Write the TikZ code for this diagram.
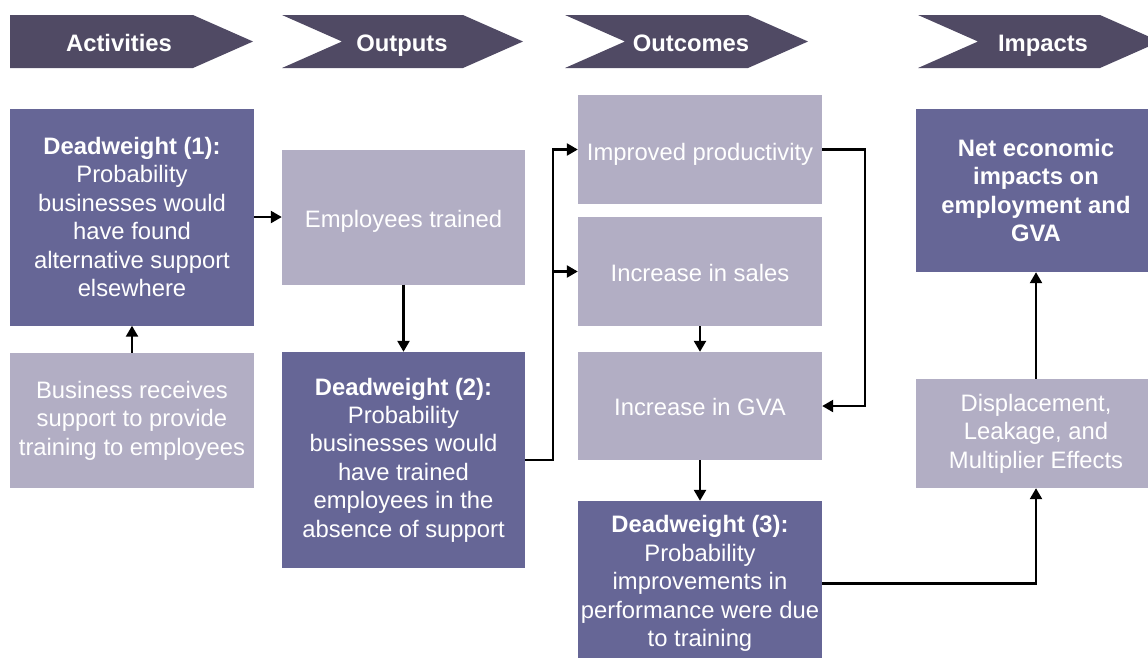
\documentclass[tikz,border=0pt]{standalone}
\usepackage{fontspec}
\setmainfont{Liberation Sans}
\usetikzlibrary{arrows.meta,calc}
\definecolor{chev}{HTML}{504A64}
\definecolor{darkbox}{HTML}{666696}
\definecolor{lightbox}{HTML}{B2AEC4}
\tikzset{
  boxbase/.style={rectangle, inner sep=0pt, text=white, align=center,
    font=\fontsize{23.8}{28.4}\selectfont},
  darkb/.style={boxbase, fill=darkbox},
  lightb/.style={boxbase, fill=lightbox},
  chevpath/.style={fill=chev, draw=none},
  chevlabel/.style={text=white, anchor=base, font=\bfseries\fontsize{23.8}{28}\selectfont},
  arr/.style={line width=2.4pt, -{Triangle[length=11pt,width=12pt]}}
}
\begin{document}
\begin{tikzpicture}[x=1pt,y=-1pt]
\useasboundingbox (0,0) rectangle (1148,657);
\clip (0,0) rectangle (1148,657);
% header chevrons
\fill[chevpath] (10,15) -- (193,15) -- (253,41.5) -- (193,68) -- (10,68) -- cycle;
\fill[chevpath] (282,15) -- (463,15) -- (523,41.5) -- (463,68) -- (282,68) -- (342,41.5) -- cycle;
\fill[chevpath] (565,15) -- (748,15) -- (808,41.5) -- (748,68) -- (565,68) -- (625,41.5) -- cycle;
\fill[chevpath] (918,15) -- (1100,15) -- (1160,41.5) -- (1100,68) -- (918,68) -- (978,41.5) -- cycle;
\node[chevlabel] (hact) at (119,51) {Activities};
\node[chevlabel] (hout) at (402,51) {Outputs};
\node[chevlabel] (houc) at (691,51) {Outcomes};
\node[chevlabel] (himp) at (1043,51) {Impacts};
% boxes
\node[darkb, minimum width=244pt, minimum height=217pt] (d1) at (132,217) {\textbf{Deadweight (1):}\\Probability\\businesses would\\have found\\alternative support\\elsewhere};
\node[lightb, minimum width=244pt, minimum height=135pt] (bus) at (132,420.5) {Business receives\\support to provide\\training to employees};
\node[lightb, minimum width=243pt, minimum height=135pt] (emp) at (403.5,217) {\raisebox{0pt}[20pt][0pt]{Employees trained}};
\node[darkb, minimum width=243pt, minimum height=216pt] (d2) at (403.5,460) {\textbf{Deadweight (2):}\\Probability\\businesses would\\have trained\\employees in the\\absence of support};
\node[lightb, minimum width=244pt, minimum height=109pt] (imp) at (700,149.5) {\raisebox{0pt}[22pt][0pt]{Improved productivity}};
\node[lightb, minimum width=244pt, minimum height=109pt] (sal) at (700,271.5) {\raisebox{0pt}[20pt][0pt]{Increase in sales}};
\node[lightb, minimum width=244pt, minimum height=108pt] (gva) at (700,406) {\raisebox{0pt}[19pt][0pt]{Increase in GVA}};
\node[darkb, minimum width=244pt, minimum height=165pt] (d3) at (700,583.5) {\textbf{Deadweight (3):}\\Probability\\improvements in\\performance were due\\to training};
\node[darkb, minimum width=240pt, minimum height=163pt] (net) at (1036,190.5) {\textbf{Net economic}\\\textbf{impacts on}\\\textbf{employment and}\\\textbf{GVA}};
\node[lightb, minimum width=240pt, minimum height=109pt] (dis) at (1036,433.5) {Displacement,\\Leakage, and\\Multiplier Effects};
% connectors
\coordinate (spine) at (553,0);
\coordinate (rspine) at (865,0);
\draw[arr] (bus) -- (d1);
\draw[arr] (d1) -- (emp);
\draw[arr] (emp) -- (d2);
\draw[arr] (d2.east) -- (d2.east -| spine) -- (spine |- imp.west) -- (imp.west);
\draw[arr] (spine |- sal.west) -- (sal.west);
\draw[arr] (imp.east) -- (imp.east -| rspine) -- (rspine |- gva.east) -- (gva.east);
\draw[arr] (sal) -- (gva);
\draw[arr] (gva) -- (d3);
\draw[arr] (d3.east) -| (dis.south);
\draw[arr] (dis) -- (net);
\end{tikzpicture}
\end{document}
